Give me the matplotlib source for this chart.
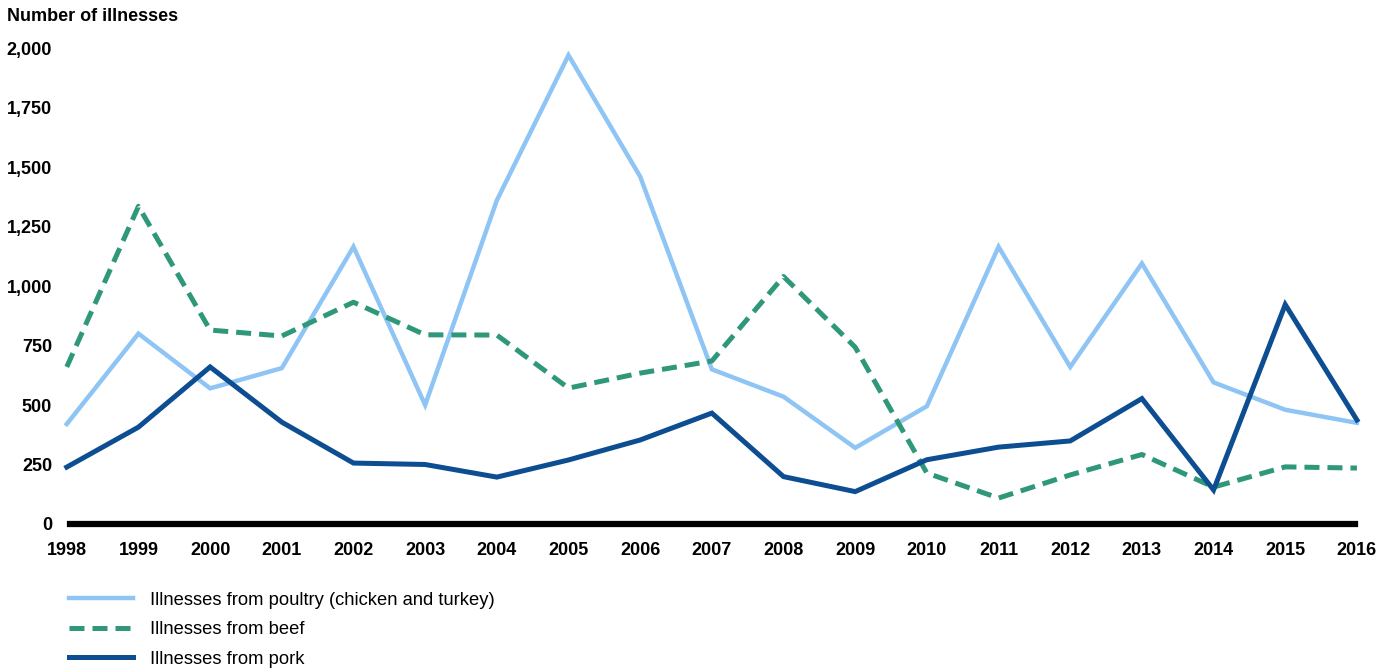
import numpy as np
import matplotlib.pyplot as plt
from matplotlib.ticker import FuncFormatter

plt.rcParams['font.family'] = ['Liberation Sans', 'DejaVu Sans']

# years
years = list(range(1998, 2017))
# illnesses by source
poultry = [420, 800, 570, 655, 1165, 500, 1360, 1970, 1460, 650, 535, 320,
           495, 1165, 660, 1095, 595, 480, 425]
beef = [660, 1335, 815, 790, 932, 795, 794, 571, 634, 685, 1040, 743,
        214, 109, 206, 292, 155, 240, 235]
pork = [239, 407, 660, 428, 256, 250, 197, 269, 353, 466, 199, 136,
        270, 323, 349, 527, 143, 922, 437]

yticks = [0, 250, 500, 750, 1000, 1250, 1500, 1750, 2000]

c_poultry = '#8ec5f4'
c_beef = '#2f987a'
c_pork = '#0d4d92'

fig = plt.figure(figsize=(13.91, 6.68), dpi=100)
ax = fig.add_axes([0.048, 0.2156, 0.9275, 0.7124])

ax.plot(years, poultry, color=c_poultry, lw=3.2, label='Illnesses from poultry (chicken and turkey)',
        clip_on=False, solid_joinstyle='miter')
ax.plot(years, beef, color=c_beef, lw=3.6, ls=(0, (3, 1.6)), label='Illnesses from beef',
        clip_on=False)
ax.plot(years, pork, color=c_pork, lw=3.6, label='Illnesses from pork', clip_on=False,
        solid_joinstyle='miter')

ax.set_xlim(1998, 2016)
ax.set_ylim(0, 2000)
ax.set_xticks(years)
ax.set_yticks(yticks)
ax.yaxis.set_major_formatter(FuncFormatter(lambda v, p: f'{int(v):,}'))

for s in ['top', 'right', 'left']:
    ax.spines[s].set_visible(False)
ax.spines['bottom'].set_linewidth(4.5)
ax.spines['bottom'].set_color('black')
ax.spines['bottom'].set_bounds(1998.04, 2015.97)
ax.tick_params(axis='both', length=0, labelsize=13)
ax.tick_params(axis='x', pad=13)
ax.tick_params(axis='y', pad=10.5)
for lab in ax.get_xticklabels() + ax.get_yticklabels():
    lab.set_fontweight('bold')

fig.text(0.005, 0.975, 'Number of illnesses', fontsize=13, fontweight='bold', va='center')

fig.legend(loc='lower left', bbox_to_anchor=(0.038, -0.024), frameon=False,
           fontsize=13.2, handlelength=3.45, labelspacing=0.68, handletextpad=0.93)

fig.savefig('out.png', dpi=100)
